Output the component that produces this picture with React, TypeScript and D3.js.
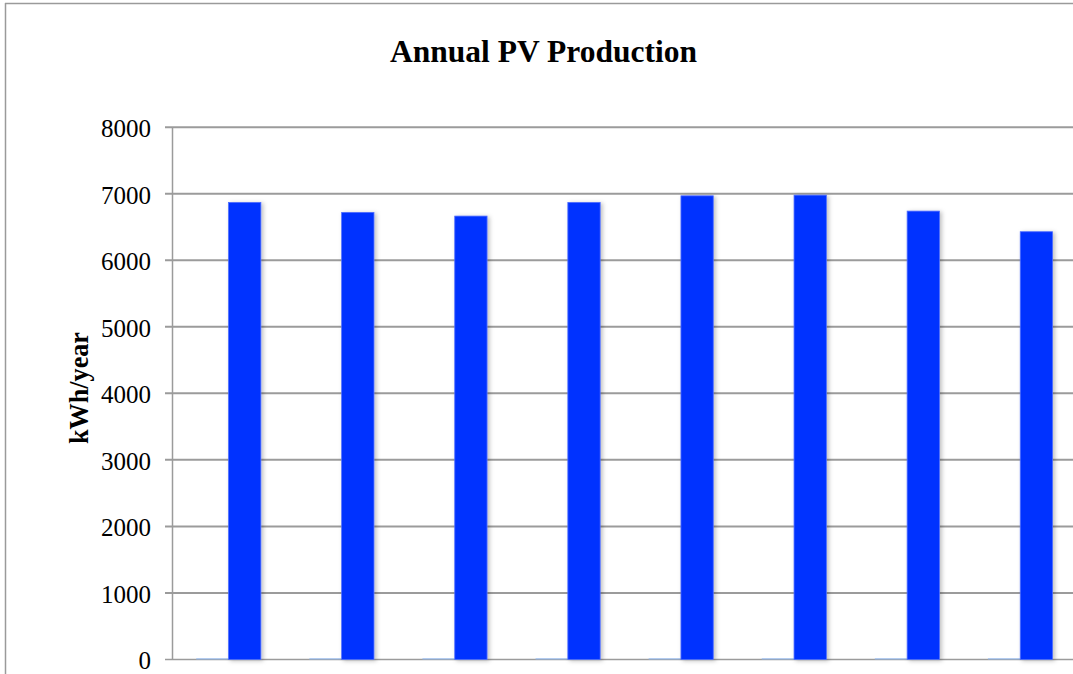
import React from "react";
import * as d3 from "d3";

const categories = ["1", "2", "3", "4", "5", "6", "7", "8"];
const seriesNames = ["Series1", "Series2"];
const series1 = [15, 15, 15, 15, 15, 15, 15, 15];
const series2 = [6870, 6720, 6665, 6870, 6970, 6980, 6740, 6430];
const yTicks = [0, 1000, 2000, 3000, 4000, 5000, 6000, 7000, 8000];
const colors = ["#8fb9f5", "#0433ff"];

const W = 1073;
const H = 674;
const left = 172;
const step = 113.1;
const top = 127.3;
const bottom = 659.4;

export default function App() {
  const x0 = d3
    .scaleBand<string>()
    .domain(categories)
    .range([left, left + step * categories.length])
    .padding(0);
  const x1 = d3
    .scaleBand<string>()
    .domain(seriesNames)
    .range([0, x0.bandwidth()])
    .paddingInner(0)
    .paddingOuter(0.75);
  const y = d3.scaleLinear().domain([0, 8000]).range([bottom, top]);
  const data = [series1, series2];
  const font = "'Liberation Serif', 'Times New Roman', serif";

  return (
    <svg
      width={W}
      height={H}
      style={{ position: "fixed", left: 0, top: 0, background: "#fff" }}
    >
      <defs>
        <filter id="sh" x="-20%" y="-5%" width="150%" height="120%">
          <feDropShadow dx="2" dy="1" stdDeviation="2" floodColor="#000" floodOpacity="0.25" />
        </filter>
      </defs>
      <rect x={0} y={0} width={W} height={H} fill="#fff" />
      {/* outer frame */}
      <line x1={5} y1={3.5} x2={W} y2={3.5} stroke="#9a9a9a" strokeWidth={1.5} />
      <line x1={5.5} y1={3} x2={5.5} y2={H} stroke="#9a9a9a" strokeWidth={1.5} />

      <text
        x={543.5}
        y={61.5}
        textAnchor="middle"
        fontFamily={font}
        fontWeight="bold"
        fontSize={32}
        textLength={307}
        lengthAdjust="spacingAndGlyphs"
        fill="#000"
      >
        Annual PV Production
      </text>

      {/* gridlines and ticks */}
      {yTicks.map((t) => (
        <g key={t}>
          <line
            x1={165}
            x2={W}
            y1={y(t)}
            y2={y(t)}
            stroke="#9b9b9b"
            strokeWidth={t === 0 ? 1.5 : 2}
          />
          <text
            x={151}
            y={y(t)}
            dy="0.4em"
            textAnchor="end"
            fontFamily={font}
            fontSize={25}
            fill="#000"
          >
            {t}
          </text>
        </g>
      ))}
      <line x1={172.5} x2={172.5} y1={top} y2={bottom} stroke="#9b9b9b" strokeWidth={1.5} />

      <text
        transform={`translate(88, 388) rotate(-90)`}
        textAnchor="middle"
        fontFamily={font}
        fontWeight="bold"
        fontSize={27}
        textLength={112}
        lengthAdjust="spacingAndGlyphs"
        fill="#000"
      >
        kWh/year
      </text>

      {/* bars */}
      {categories.map((c, i) => (
        <g key={c} transform={`translate(${x0(c)},0)`}>
          {seriesNames.map((s, j) => {
            const v = data[j][i];
            return (
              <rect
                key={s}
                x={x1(s)}
                y={y(v)}
                width={x1.bandwidth()}
                height={bottom - y(v)}
                fill={colors[j]}
                stroke={j === 1 ? "#4d6dff" : "none"}
                strokeWidth={0.8}
                filter={j === 1 ? "url(#sh)" : undefined}
              />
            );
          })}
        </g>
      ))}
    </svg>
  );
}
